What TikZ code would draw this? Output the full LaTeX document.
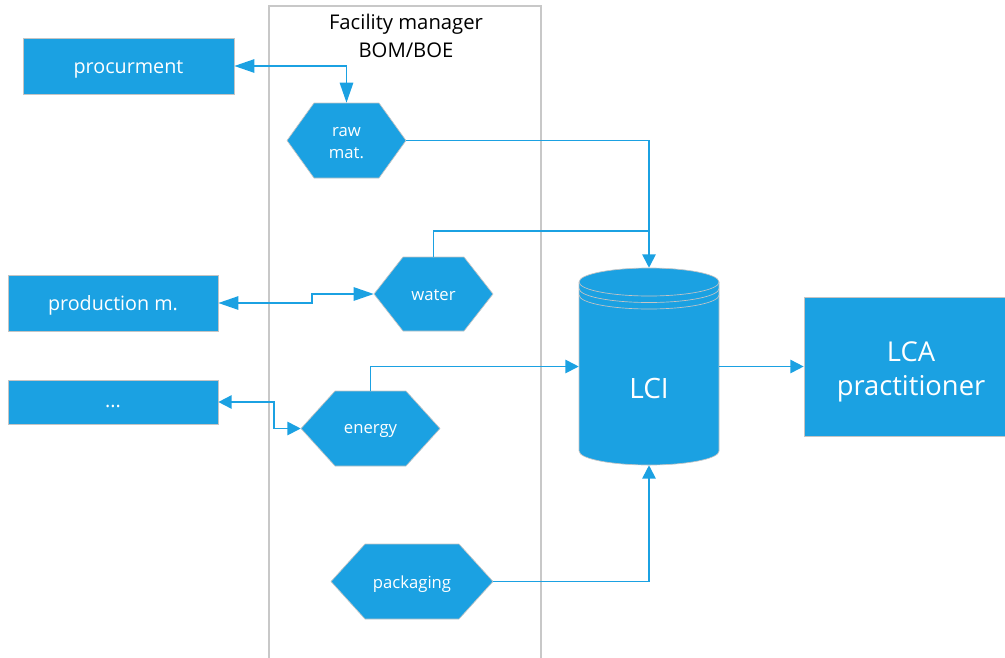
\documentclass[tikz,border=0pt]{standalone}
\usepackage{fontspec}
\setmainfont{Open Sans}
\usetikzlibrary{arrows.meta}
\definecolor{mblue}{HTML}{1BA1E2}
\definecolor{edgegray}{HTML}{C4C4C4}
\definecolor{lanegray}{HTML}{C8C8C8}
\newcommand\hexpath[5]{\filldraw[hexs] ({#1-#3},#2) -- ({#1-#3+#5},{#2-#4}) -- ({#1+#3-#5},{#2-#4}) -- ({#1+#3},#2) -- ({#1+#3-#5},{#2+#4}) -- ({#1-#3+#5},{#2+#4}) -- cycle;}
\begin{document}
\begin{tikzpicture}[x=0.75pt,y=-0.75pt,
  box/.style={fill=mblue, draw=edgegray, line width=0.5pt, inner sep=0pt},
  boxtext/.style={text=white, inner sep=0pt, align=center, font=\fontsize{14.8}{17}\selectfont},
  hexs/.style={fill=mblue, draw=edgegray, line width=0.5pt},
  hexbox/.style={inner sep=0pt},
  hextext/.style={inner sep=0pt, text=white, align=center, font=\fontsize{12.5}{17}\selectfont},
  conn/.style={draw=mblue, line width=1.3pt},
  bigtip/.tip={Triangle[length=15pt,width=10pt]},
  smalltip/.tip={Triangle[length=10pt,width=10pt]},
  lane/.style={draw=lanegray, line width=0.8pt}
]
\useasboundingbox (0,0) rectangle (1005,657);
\clip (0,0) rectangle (1005,657);

% swimlane
\draw[lane] (269,6) rectangle (541,680);
\node[align=center, text=black, font=\fontsize{15.2}{20.5}\selectfont] (lanetitle) at (406,36) {Facility manager\\BOM/BOE};

% left boxes
\node[box, minimum width=158.25pt, minimum height=42pt] (proc) at (128.5,66) {};
\node[boxtext] (proctext) at ([yshift=-2.25pt]proc.center) {procurment};
\node[box, minimum width=157.5pt, minimum height=42pt] (prod) at (113,303) {};
\node[boxtext] (prodtext) at ([yshift=-2pt]prod.center) {production m.};
\node[box, minimum width=157.5pt, minimum height=33pt] (dots) at (113,402) {};
\node[boxtext] (dotstext) at ([yshift=-3pt]dots.center) {...};

% LCA box
\node[box, minimum width=160.5pt, minimum height=104.25pt] (lca) at (911,366.5) {};
\node[boxtext, font=\fontsize{20.5}{26}\selectfont] (lcatext) at ([yshift=-4pt]lca.center) {LCA\\practitioner};

% hexagons
\hexpath{346.5}{140.5}{59.5}{37.5}{27}
\node[hexbox, minimum width=89.25pt, minimum height=56.25pt] (raw) at (346.5,140.5) {};
\node[hextext] (rawtext) at ([yshift=-2pt]raw.center) {raw\\mat.};
\hexpath{433.5}{294}{59.5}{37}{29}
\node[hexbox, minimum width=89.25pt, minimum height=55.5pt] (water) at (433.5,294) {};
\node[hextext] (watertext) at ([yshift=-1pt]water.center) {water};
\hexpath{370.5}{428.5}{69.5}{37.5}{34}
\node[hexbox, minimum width=104.25pt, minimum height=56.25pt] (energy) at (370.5,428.5) {};
\node[hextext] (energytext) at ([yshift=-1.5pt]energy.center) {energy};
\hexpath{412}{581.5}{81}{37.5}{34}
\node[hexbox, minimum width=121.5pt, minimum height=56.25pt] (pack) at (412,581.5) {};
\node[hextext] (packtext) at ([yshift=-2pt]pack.center) {packaging};

% cylinder LCI
\filldraw[fill=mblue, draw=edgegray, line width=0.5pt]
  (579,282) -- (579,451) arc[start angle=180, end angle=360, x radius=52.5pt, y radius=10.5pt]
  -- (719,282) arc[start angle=0, end angle=180, x radius=52.5pt, y radius=10.5pt] -- cycle;
\draw[edgegray, line width=0.5pt] (579,282) arc[start angle=180, end angle=360, x radius=52.5pt, y radius=10.5pt];
\draw[edgegray, line width=0.5pt] (579,288.5) arc[start angle=180, end angle=360, x radius=52.5pt, y radius=10.5pt];
\draw[edgegray, line width=0.5pt] (579,295) arc[start angle=180, end angle=360, x radius=52.5pt, y radius=10.5pt];
\node[minimum width=105pt, minimum height=147.75pt, inner sep=0pt] (lci) at (649,366.5) {};
\node[text=white, font=\fontsize{21}{25}\selectfont] (lcitext) at (649,388) {LCI};

% connectors
\coordinate (join) at (649,231);
\coordinate (pwbend) at (312,294);
\coordinate (debend) at (274,428.5);
\draw[conn, {bigtip}-{bigtip}] (proc.east) -| (raw.north);
\draw[conn, -{smalltip}] (raw.east) -| (lci.north);
\draw[conn] (water.north) |- (join);
\draw[conn, {bigtip}-{bigtip}] (prod.east) -| (pwbend) -- (water.west);
\draw[conn, {smalltip}-{smalltip}] (dots.east) -| (debend) -- (energy.west);
\draw[conn, -{smalltip}] (energy.north) |- (lci.west);
\draw[conn, -{smalltip}] (pack.east) -| (lci.south);
\draw[conn, -{smalltip}] (lci.east) -- (lca.west);
\end{tikzpicture}
\end{document}
